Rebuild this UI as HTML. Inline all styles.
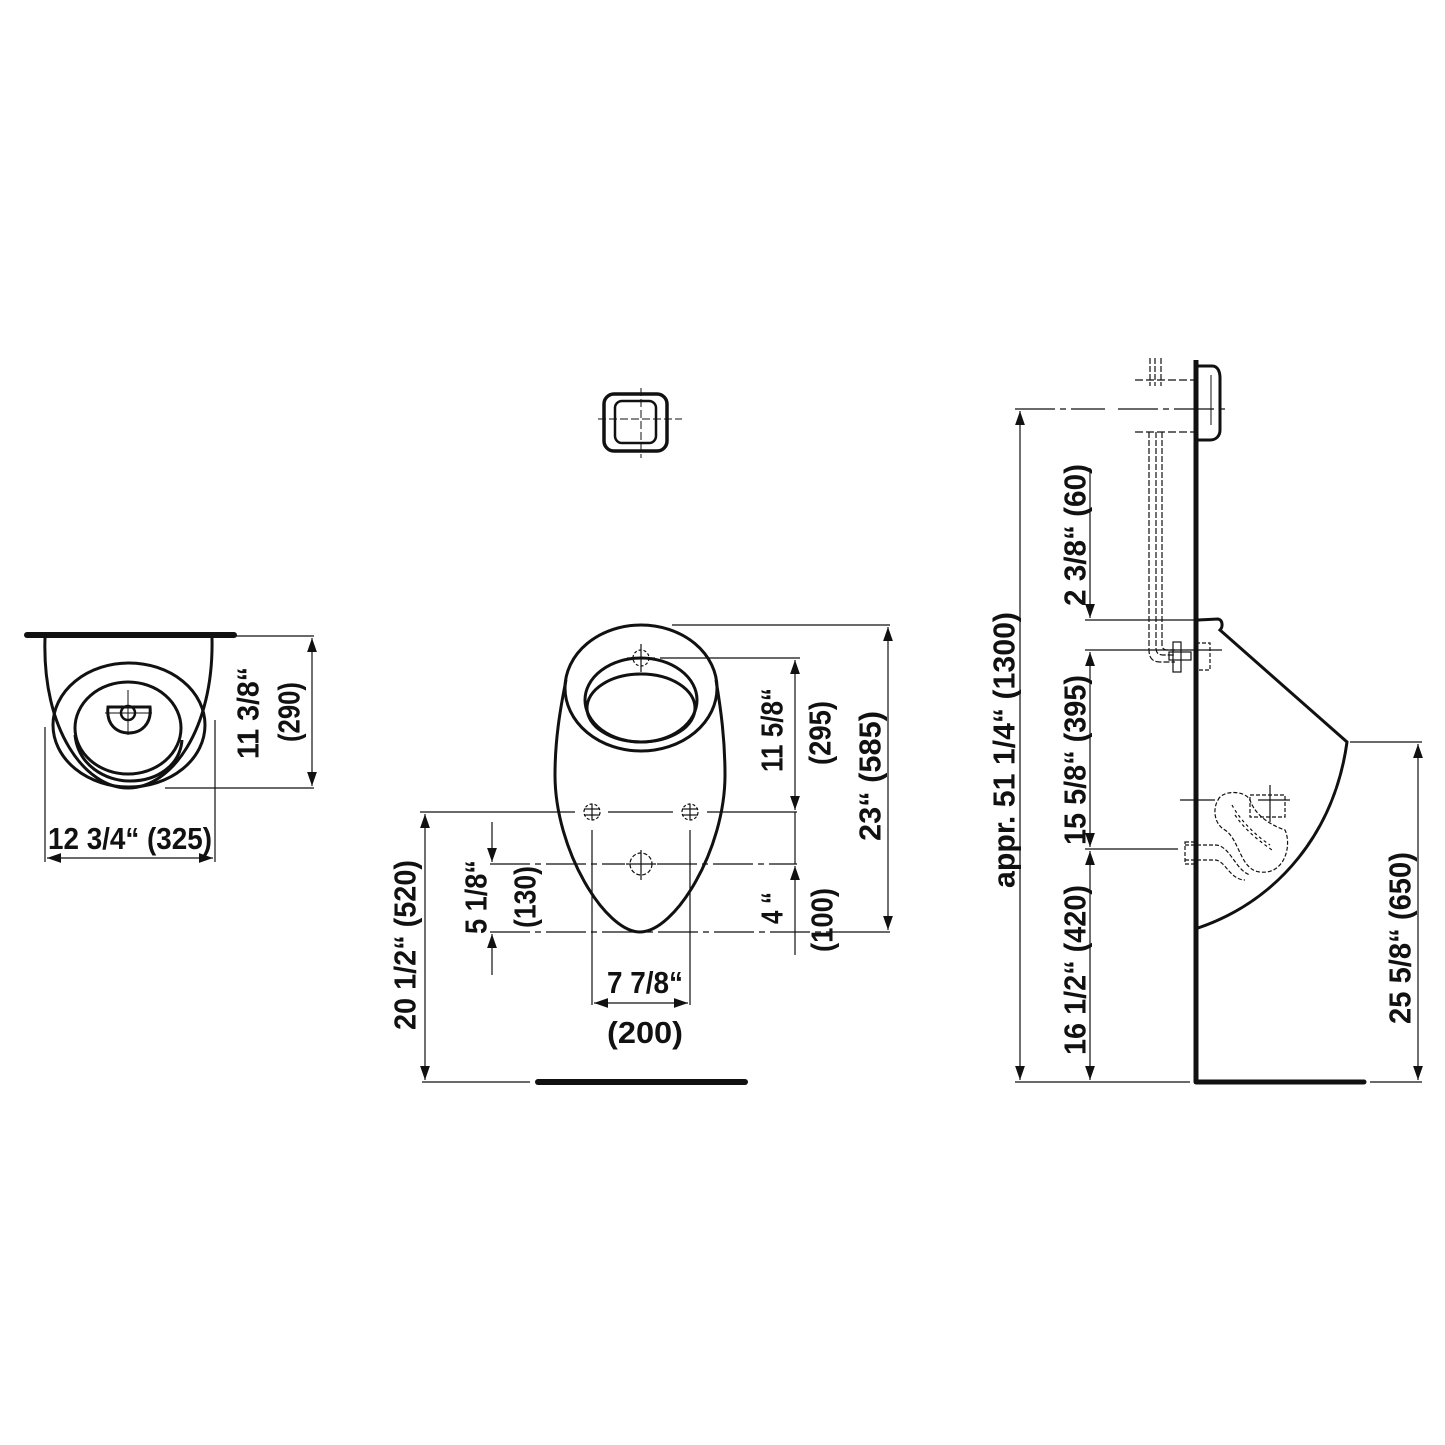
<!DOCTYPE html>
<html><head><meta charset="utf-8"><style>html,body{margin:0;padding:0;background:#fff}svg{display:block}
text{font-family:"Liberation Sans Narrow","Liberation Sans",sans-serif;font-weight:bold;fill:#111;font-size:31px}</style></head>
<body>
<svg width="1445" height="1445" viewBox="0 0 1445 1445" xmlns="http://www.w3.org/2000/svg">
<defs>
<marker id="a" viewBox="0 0 10 10" refX="10" refY="5" markerWidth="14" markerHeight="14" markerUnits="userSpaceOnUse" orient="auto"><path d="M0,1.5 L10,5 L0,8.5 z" fill="#111"/></marker>
</defs>
<g stroke="#111" fill="none">
<!-- LEFT VIEW -->
<line x1="27" y1="635" x2="234" y2="635" stroke-width="6" stroke-linecap="round"/>
<path d="M45,638 C42,730 85,788 128,788 C171,788 214,730 212,638" stroke-width="3"/>
<ellipse cx="129" cy="725" rx="76" ry="62" stroke-width="3"/>
<ellipse cx="128" cy="728" rx="53" ry="46" stroke-width="3"/>
<path d="M75,735 C78,765 105,781 130,781 C158,781 180,765 182,740" stroke-width="3"/>
<path d="M108,707 L150,707 C152,725 140,733 129,733 C117,733 106,725 108,707 z" stroke-width="3"/>
<circle cx="128" cy="713" r="7" stroke-width="2.5"/>
<line x1="128" y1="690" x2="128" y2="735" stroke-width="1"/><line x1="105" y1="713" x2="152" y2="713" stroke-width="1"/>
<g stroke-width="1.2">
<line x1="220" y1="636" x2="314" y2="636"/><line x1="165" y1="788" x2="314" y2="788"/>
<line x1="312" y1="712" x2="312" y2="638" marker-end="url(#a)"/><line x1="312" y1="712" x2="312" y2="786" marker-end="url(#a)"/>
<line x1="45" y1="727" x2="45" y2="862"/><line x1="215" y1="720" x2="215" y2="862"/>
<line x1="130" y1="858" x2="213" y2="858" marker-end="url(#a)"/>
<line x1="130" y1="858" x2="47" y2="858" marker-end="url(#a)"/>
</g>
<!-- MIDDLE -->
<rect x="604" y="394" width="63" height="57" rx="10" stroke-width="3.5"/>
<rect x="615" y="401" width="41" height="42" rx="7" stroke-width="2.5"/>
<line x1="641" y1="388" x2="641" y2="458" stroke-width="1" stroke-dasharray="8,3"/>
<line x1="598" y1="419" x2="682" y2="419" stroke-width="1" stroke-dasharray="8,3"/>
<line x1="538" y1="1082" x2="745" y2="1082" stroke-width="6" stroke-linecap="round"/>
<path d="M566,680 C560,710 555,740 555,775 C555,850 605,932 640,932 C675,932 725,850 725,775 C725,740 721,710 716,680" stroke-width="3"/>
<ellipse cx="641" cy="688" rx="76" ry="63" stroke-width="3"/>
<ellipse cx="641" cy="700" rx="56" ry="42" stroke-width="3"/>
<ellipse cx="641" cy="708" rx="54" ry="34" stroke-width="3"/>
<g stroke-width="1.2">
<circle cx="641" cy="658" r="8" stroke-dasharray="3,2"/><line x1="641" y1="644" x2="641" y2="672"/><line x1="627" y1="658" x2="655" y2="658"/>
<circle cx="592" cy="812" r="8" stroke-dasharray="3,2"/><line x1="584" y1="809" x2="600" y2="809"/><line x1="584" y1="815" x2="600" y2="815"/><line x1="592" y1="804" x2="592" y2="820"/>
<circle cx="690" cy="812" r="8" stroke-dasharray="3,2"/><line x1="682" y1="809" x2="698" y2="809"/><line x1="682" y1="815" x2="698" y2="815"/><line x1="690" y1="804" x2="690" y2="820"/>
<circle cx="641" cy="864" r="11" stroke-dasharray="4,2"/><line x1="641" y1="850" x2="641" y2="880"/><line x1="626" y1="864" x2="656" y2="864"/>
<path d="M420,812 H575 M608,812 H673 M707,812 H797"/>
<line x1="422" y1="1082" x2="530" y2="1082"/>
<line x1="425" y1="945" x2="425" y2="814" marker-end="url(#a)"/><line x1="425" y1="945" x2="425" y2="1080" marker-end="url(#a)"/>
<path d="M490,864 H625 M657,864 H797" stroke-dasharray="40,5,6,5"/>
<path d="M490,932 H845" stroke-dasharray="40,5,6,5"/>
<line x1="492" y1="822" x2="492" y2="862" marker-end="url(#a)"/><line x1="492" y1="975" x2="492" y2="934" marker-end="url(#a)"/>
<line x1="592" y1="830" x2="592" y2="1005"/><line x1="690" y1="830" x2="690" y2="1005"/>
<line x1="641" y1="1003" x2="688" y2="1003" marker-end="url(#a)"/><line x1="641" y1="1003" x2="594" y2="1003" marker-end="url(#a)"/>
<line x1="660" y1="658" x2="800" y2="658"/>
<line x1="795" y1="740" x2="795" y2="660" marker-end="url(#a)"/><line x1="795" y1="740" x2="795" y2="810" marker-end="url(#a)"/>
<line x1="795" y1="812" x2="795" y2="864"/>
<line x1="795" y1="955" x2="795" y2="866" marker-end="url(#a)"/>
<line x1="672" y1="625" x2="890" y2="625"/><line x1="845" y1="932" x2="890" y2="932"/>
<line x1="888" y1="780" x2="888" y2="627" marker-end="url(#a)"/><line x1="888" y1="780" x2="888" y2="930" marker-end="url(#a)"/>
</g>
<!-- RIGHT -->
<line x1="1196" y1="360" x2="1196" y2="1082" stroke-width="5"/>
<line x1="1196" y1="1082" x2="1364" y2="1082" stroke-width="5" stroke-linecap="round"/>
<path d="M1198,366 H1212 C1218,366 1220,372 1220,378 V430 C1220,436 1216,440 1210,440 H1198" stroke-width="3"/>
<line x1="1211" y1="375" x2="1211" y2="425" stroke-width="1"/>
<path d="M1198,620 L1218,619 C1223,620 1223,627 1220,630 L1347,742 C1335,830 1280,900 1198,928" stroke-width="3"/>
<g stroke-width="1.2">
<path d="M1135,380 H1196 M1135,432 H1196" stroke-dasharray="8,3"/>
<path d="M1015,409 H1105 M1118,409 H1230" stroke-dasharray="40,5,6,5"/>
<path d="M1150,358 V386 M1155,358 V386 M1161,358 V386" stroke-dasharray="6,2"/>
<path d="M1149,432 V650 Q1149,662 1160,662 H1175 M1156,432 V648 Q1156,655 1163,655 H1175 M1162,432 V645 Q1162,650 1168,650 H1175" stroke-dasharray="6,2"/>
<rect x="1173" y="642" width="8" height="30"/><rect x="1169" y="652" width="22" height="8"/>
<rect x="1196" y="643" width="14" height="27" stroke-dasharray="4,2"/>
<line x1="1085" y1="620" x2="1195" y2="620"/><line x1="1085" y1="650" x2="1222" y2="650"/>
<line x1="1085" y1="849" x2="1178" y2="849"/><line x1="1015" y1="1082" x2="1190" y2="1082"/>
<line x1="1020" y1="750" x2="1020" y2="411" marker-end="url(#a)"/><line x1="1020" y1="750" x2="1020" y2="1080" marker-end="url(#a)"/>
<line x1="1090" y1="468" x2="1090" y2="618" marker-end="url(#a)"/>
<line x1="1090" y1="750" x2="1090" y2="652" marker-end="url(#a)"/><line x1="1090" y1="750" x2="1090" y2="847" marker-end="url(#a)"/>
<line x1="1090" y1="960" x2="1090" y2="851" marker-end="url(#a)"/><line x1="1090" y1="960" x2="1090" y2="1080" marker-end="url(#a)"/>
<line x1="1350" y1="742" x2="1422" y2="742"/><line x1="1370" y1="1082" x2="1422" y2="1082"/>
<line x1="1418" y1="900" x2="1418" y2="744" marker-end="url(#a)"/><line x1="1418" y1="900" x2="1418" y2="1080" marker-end="url(#a)"/>
<line x1="1180" y1="800" x2="1215" y2="800"/>
<path d="M1218,800 C1222,790 1245,790 1250,800 C1255,815 1270,825 1285,830 C1292,845 1285,875 1260,872 C1240,870 1240,840 1225,830 C1215,825 1212,810 1218,800 z" stroke-dasharray="4,2"/>
<path d="M1185,845 H1215 C1230,845 1235,870 1250,875 M1185,860 H1215 C1225,860 1230,880 1245,880" stroke-dasharray="4,2"/>
<path d="M1232,805 C1240,820 1255,835 1270,845 M1235,815 C1245,830 1258,840 1272,850" stroke-dasharray="3,3"/>
<rect x="1250" y="795" width="35" height="22" stroke-dasharray="4,2"/>
<line x1="1270" y1="785" x2="1270" y2="822"/><line x1="1258" y1="800" x2="1290" y2="800"/>
<rect x="1185" y="842" width="12" height="22" stroke-dasharray="4,2"/>
</g>
</g>
<!-- TEXT -->
<text x="130" y="849" text-anchor="middle" textLength="164" lengthAdjust="spacingAndGlyphs">12 3/4“ (325)</text>
<text transform="translate(248,713) rotate(-90)" text-anchor="middle" dominant-baseline="central" textLength="92" lengthAdjust="spacingAndGlyphs">11 3/8“</text>
<text transform="translate(289,712) rotate(-90)" text-anchor="middle" dominant-baseline="central" textLength="60" lengthAdjust="spacingAndGlyphs">(290)</text>
<text transform="translate(405,945) rotate(-90)" text-anchor="middle" dominant-baseline="central" textLength="170" lengthAdjust="spacingAndGlyphs">20 1/2“ (520)</text>
<text transform="translate(476,897) rotate(-90)" text-anchor="middle" dominant-baseline="central" textLength="74" lengthAdjust="spacingAndGlyphs">5 1/8“</text>
<text transform="translate(525,897) rotate(-90)" text-anchor="middle" dominant-baseline="central" textLength="62" lengthAdjust="spacingAndGlyphs">(130)</text>
<text x="645" y="993" text-anchor="middle" textLength="76" lengthAdjust="spacingAndGlyphs">7 7/8“</text>
<text x="645" y="1043" text-anchor="middle" textLength="76" lengthAdjust="spacingAndGlyphs">(200)</text>
<text transform="translate(772,730) rotate(-90)" text-anchor="middle" dominant-baseline="central" textLength="84" lengthAdjust="spacingAndGlyphs">11 5/8“</text>
<text transform="translate(820,733) rotate(-90)" text-anchor="middle" dominant-baseline="central" textLength="64" lengthAdjust="spacingAndGlyphs">(295)</text>
<text transform="translate(772,908) rotate(-90)" text-anchor="middle" dominant-baseline="central" textLength="32" lengthAdjust="spacingAndGlyphs">4 “</text>
<text transform="translate(822,920) rotate(-90)" text-anchor="middle" dominant-baseline="central" textLength="64" lengthAdjust="spacingAndGlyphs">(100)</text>
<text transform="translate(870,776) rotate(-90)" text-anchor="middle" dominant-baseline="central" textLength="130" lengthAdjust="spacingAndGlyphs">23“ (585)</text>
<text transform="translate(1004,750) rotate(-90)" text-anchor="middle" dominant-baseline="central" textLength="276" lengthAdjust="spacingAndGlyphs">appr. 51 1/4“ (1300)</text>
<text transform="translate(1075,535) rotate(-90)" text-anchor="middle" dominant-baseline="central" textLength="142" lengthAdjust="spacingAndGlyphs">2 3/8“ (60)</text>
<text transform="translate(1075,760) rotate(-90)" text-anchor="middle" dominant-baseline="central" textLength="170" lengthAdjust="spacingAndGlyphs">15 5/8“ (395)</text>
<text transform="translate(1075,970) rotate(-90)" text-anchor="middle" dominant-baseline="central" textLength="170" lengthAdjust="spacingAndGlyphs">16 1/2“ (420)</text>
<text transform="translate(1400,938) rotate(-90)" text-anchor="middle" dominant-baseline="central" textLength="172" lengthAdjust="spacingAndGlyphs">25 5/8“ (650)</text>
</svg>
</body></html>
